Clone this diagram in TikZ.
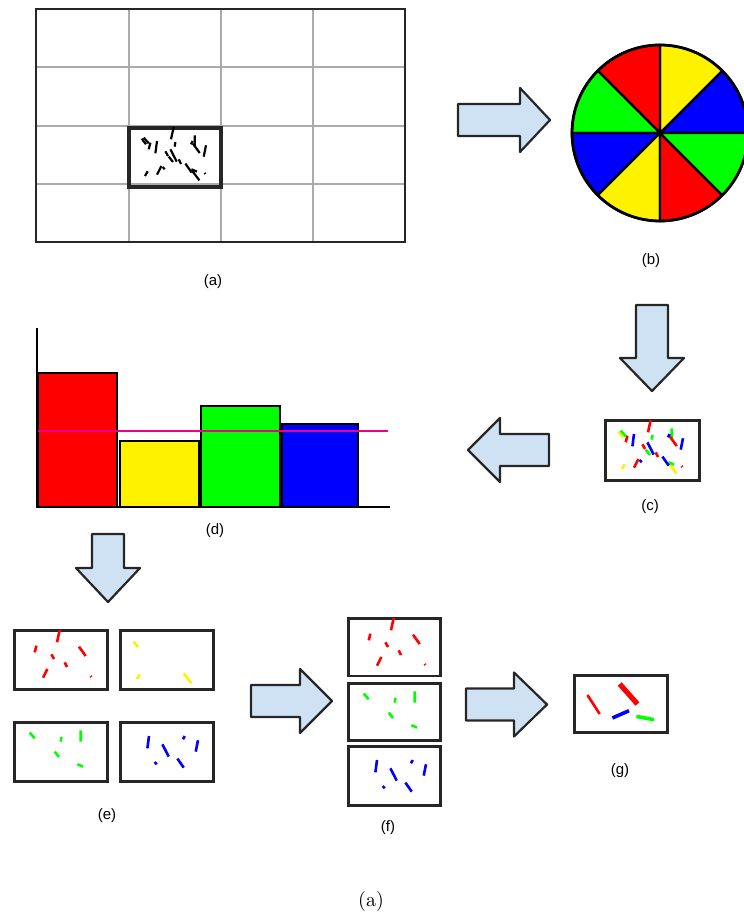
\documentclass[tikz,border=0pt]{standalone}
\usepackage{fontspec}
\newfontfamily\labelfont{Liberation Sans}
\usetikzlibrary{positioning}
\definecolor{arrowblue}{HTML}{CFE2F3}
\definecolor{gridgray}{HTML}{ABABAB}

% segment sets of one colour, relative to a box corner
\newcommand{\redbits}[1]{%
  \draw[bit,#1] (46.7,1) -- (44,13.3) (23.4,16.7) -- (21.7,23.3) (66,17.7) -- (72.7,27)
    (38.4,25.3) -- (41,30) (51.7,33.3) -- (54,38) (34.4,40) -- (30,48.7) (77.6,47) -- (78.4,48);}
\newcommand{\yellowbits}[1]{%
  \draw[bit,#1] (14.7,12.7) -- (19,18.3) (20.7,45.3) -- (18,50) (64.7,44.3) -- (72.4,54.3);}
\newcommand{\greenbits}[1]{%
  \draw[bit,#1] (16.7,11.6) -- (21.7,17.3) (48.4,16) -- (47.7,20.6) (67.7,9.3) -- (67.7,20.6)
    (41.7,30.6) -- (46,36) (64.4,43.3) -- (70,45.6);}
\newcommand{\bluebits}[1]{%
  \draw[bit,#1] (30,15) -- (28.4,27.3) (65.7,15) -- (64,18.3) (79,19.3) -- (76.7,30.6)
    (43.4,23.3) -- (49.7,35.6) (35.7,41) -- (37.7,43.3) (58.4,37.6) -- (64.7,46.6);}

\tikzset{
  panel/.style={draw=black!85, line width=1.3pt, inner sep=0pt, anchor=north west},
  bit/.style={line width=1.3pt},
  lbl/.style={font=\labelfont\fontsize{7.5}{9}\selectfont},
  arrowbody/.style={fill=arrowblue, draw=black!85, line width=1.1pt, line join=round},
  pics/fatarrow/.style 2 args={code={
    \draw[arrowbody] (0,-16) -- (#1-#2,-16) -- (#1-#2,-32) -- (#1,0)
      -- (#1-#2,32) -- (#1-#2,16) -- (0,16) -- cycle;
  }}
}

\begin{document}
\begin{tikzpicture}[x=0.5pt, y=-0.5pt]
\useasboundingbox (0,0) rectangle (743,913);

% (a) grid
\foreach \gx in {128.5,221,313}
  \draw[gridgray, line width=1pt] (\gx,9) -- (\gx,242);
\foreach \gy in {67.5,126,184}
  \draw[gridgray, line width=1pt] (36,\gy) -- (405,\gy);
\draw[black!85, line width=1.1pt] (36,9) rectangle (405,242);
\node[panel, line width=2pt, minimum width=46pt, minimum height=29.5pt] (cell) at (127,126) {};
\begin{scope}[shift={(cell.north west)}, bit/.append style={line width=1.1pt}]
  \redbits{black} \yellowbits{black} \greenbits{black} \bluebits{black}
\end{scope}
\node[lbl] (capa) at (213,282) {(a)};

% (b) colour wheel
\coordinate (hub) at (660,133);
\foreach \c [count=\i from 0] in {blue,yellow,red,green,blue,yellow,red,green}
  \filldraw[fill=\c, draw=black, line width=1.1pt]
    (hub) -- ++(-\i*45:88) arc[start angle=-\i*45, end angle=-\i*45-45, radius=88] -- cycle;
\draw[black, line width=1.4pt] (hub) circle[radius=88];
\node[lbl] (capb) at (651,261) {(b)};

% (c) coloured bits
\node[panel, minimum width=47pt, minimum height=30pt] (mix) at (604,419) {};
\begin{scope}[shift={(mix.north west)}]
  \yellowbits{yellow} \greenbits{green} \redbits{red} \bluebits{blue}
\end{scope}
\node[lbl] (capc) at (650,507) {(c)};

% (d) histogram
\draw[black, line width=1pt] (37,328) -- (37,507) -- (390,507);
\filldraw[fill=red, draw=black, line width=1.1pt] (38,373) rectangle (117,507);
\filldraw[fill=yellow, draw=black, line width=1.1pt] (120,441) rectangle (199,507);
\filldraw[fill=green, draw=black, line width=1.1pt] (201,406) rectangle (280,507);
\filldraw[fill=blue, draw=black, line width=1.1pt] (282,424) rectangle (358,507);
\draw[magenta, line width=1.3pt] (38,431) -- (388,431);
\node[lbl] (capd) at (215,531) {(d)};

% (e) split per colour
\node[panel, minimum width=46.5pt, minimum height=29.5pt] (ered) at (13,629) {};
\node[panel, minimum width=46.5pt, minimum height=29.5pt] (eyel) at (119,629) {};
\node[panel, minimum width=46.5pt, minimum height=29.5pt] (egrn) at (13,721) {};
\node[panel, minimum width=46.5pt, minimum height=29.5pt] (eblu) at (119,721) {};
\begin{scope}[shift={(ered.north west)}] \redbits{red} \end{scope}
\begin{scope}[shift={(eyel.north west)}] \yellowbits{yellow} \end{scope}
\begin{scope}[shift={(egrn.north west)}] \greenbits{green} \end{scope}
\begin{scope}[shift={(eblu.north west)}] \bluebits{blue} \end{scope}
\node[lbl] (cape) at (107,816) {(e)};

% (f) kept colours
\node[panel, minimum width=46pt, minimum height=28.75pt] (fred) at (347,617) {};
\node[panel, minimum width=46pt, minimum height=28.5pt] (fgrn) at (347,682) {};
\node[panel, minimum width=46pt, minimum height=29.5pt] (fblu) at (347,745) {};
\begin{scope}[shift={(fred.north west)}] \redbits{red} \end{scope}
\begin{scope}[shift={(fgrn.north west)}] \greenbits{green} \end{scope}
\begin{scope}[shift={(fblu.north west)}] \bluebits{blue} \end{scope}
\node[lbl] (capf) at (388,828) {(f)};

% (g) result
\node[panel, minimum width=46.5pt, minimum height=28.5pt] (res) at (573,674) {};
\begin{scope}[shift={(res.north west)}]
  \draw[bit, red] (14.4,21) -- (26.7,40);
  \draw[bit, red, line width=2.6pt] (46.7,10) -- (64.4,30);
  \draw[bit, blue, line width=1.8pt] (39.4,44) -- (56,36.7);
  \draw[bit, green, line width=1.8pt] (63.4,42.4) -- (81,45.7);
\end{scope}
\node[lbl] (capg) at (620,771) {(g)};

% block arrows
\pic at (458,120) {fatarrow={92}{30}};
\pic[rotate=-90] at (652,305) {fatarrow={86}{33}};
\pic[rotate=180] at (549,450) {fatarrow={81}{32}};
\pic[rotate=-90] at (108,534) {fatarrow={68}{34}};
\pic at (251,701) {fatarrow={81}{32}};
\pic at (466,704.5) {fatarrow={81}{33}};

\node (caption) at (371,901) {(a)};
\end{tikzpicture}
\end{document}
